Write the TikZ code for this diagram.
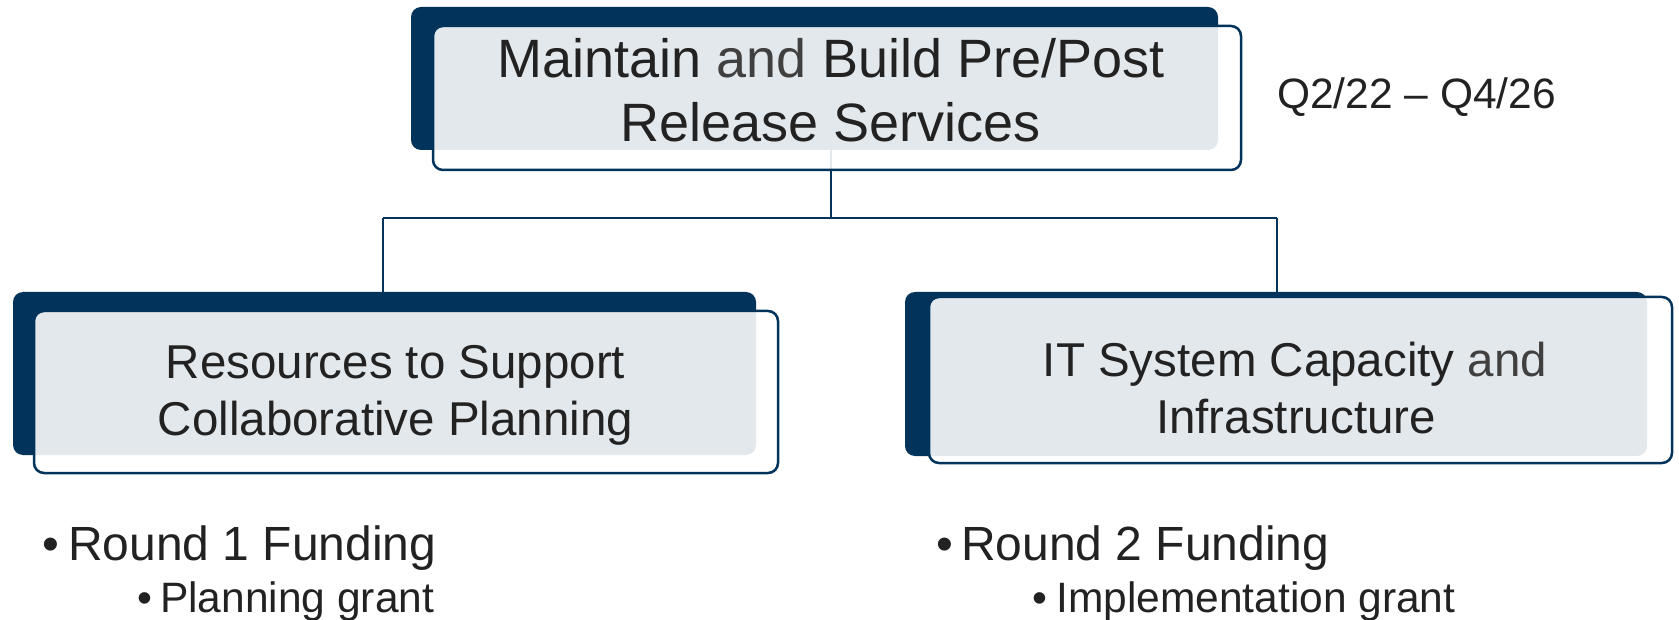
\documentclass[tikz,border=0pt]{standalone}
\usepackage{fontspec}
\setmainfont{Liberation Sans}
\definecolor{navy}{RGB}{2,51,90}
\definecolor{txt}{RGB}{34,34,34}
\definecolor{andgray}{RGB}{64,64,64}
\begin{document}
\begin{tikzpicture}[x=1pt,y=-1pt,
  darkbox/.style={fill=navy,draw=none,rounded corners=10pt,inner sep=0pt,outer sep=0pt},
  overbox/.style={fill=white,fill opacity=0.89,draw=navy,draw opacity=1,line width=2.5pt,rounded corners=10pt,inner sep=0pt,outer sep=0pt},
  conn/.style={draw=navy,line width=2pt},
  bigtxt/.style={font=\fontsize{54}{64}\selectfont,text=txt,anchor=base,inner sep=0pt},
  midtxt/.style={font=\fontsize{47.5}{57}\selectfont,text=txt,anchor=base,inner sep=0pt},
  datetxt/.style={font=\fontsize{42.5}{50}\selectfont,text=txt,anchor=base west,inner sep=0pt},
  lvlone/.style={font=\fontsize{48}{56}\selectfont,text=txt,anchor=base west,inner sep=0pt},
  lvltwo/.style={font=\fontsize{42.5}{50}\selectfont,text=txt,anchor=base west,inner sep=0pt},
  bulone/.style={font=\fontsize{48}{56}\selectfont,text=txt,anchor=base,inner sep=0pt},
  bultwo/.style={font=\fontsize{42.5}{50}\selectfont,text=txt,anchor=base,inner sep=0pt}]
\useasboundingbox (0,0) rectangle (1679,620);
% junction coordinates
\coordinate (jtop) at (831,218);
\coordinate (jl) at (383,218);
\coordinate (jr) at (1277,218);
\coordinate (tl) at (383,292);
\coordinate (tr) at (1277,292);
\coordinate (tt) at (831,150);
% connectors (behind boxes)
\draw[conn] (tt) -- (jtop);
\draw[conn] (jl) -- (jr);
\draw[conn] (jl) -- (tl);
\draw[conn] (jr) -- (tr);
% dark back boxes
\node[darkbox,minimum width=807pt,minimum height=143pt] (topdark) at (814.5,78.5) {};
\node[darkbox,minimum width=743pt,minimum height=163pt] (ldark) at (384.5,373.5) {};
\node[darkbox,minimum width=742pt,minimum height=164pt] (rdark) at (1276,374) {};
% overlay boxes
\node[overbox,minimum width=808pt,minimum height=144pt] (topover) at (837,98) {};
\node[overbox,minimum width=744pt,minimum height=162pt] (lover) at (406,392) {};
\node[overbox,minimum width=743pt,minimum height=166pt] (rover) at (1300.5,380) {};
% texts
\node[bigtxt] (t1) at (831,78) {Maintain \textcolor{andgray}{and} Build Pre/Post};
\node[bigtxt] (t2) at (831,142) {Release Services};
\node[datetxt] (date) at (1277,109) {Q2/22 – Q4/26};
\node[midtxt] (l1) at (395.5,378) {Resources to Support};
\node[midtxt] (l2) at (395.5,435) {Collaborative Planning};
\node[midtxt] (r1) at (1295,377) {IT System Capacity \textcolor{andgray}{and}};
\node[midtxt] (r2) at (1296,433) {Infrastructure};
% bullets left
\node[bulone] (lb1) at (51,560) {•};
\node[lvlone] (lr1) at (68,560) {Round 1 Funding};
\node[bultwo] (lb2) at (145,612) {•};
\node[lvltwo] (lr2) at (160,612) {Planning grant};
% bullets right
\node[bulone] (rb1) at (945,560) {•};
\node[lvlone] (rr1) at (961,560) {Round 2 Funding};
\node[bultwo] (rb2) at (1040,612) {•};
\node[lvltwo] (rr2) at (1056,612) {Implementation grant};
\end{tikzpicture}
\end{document}
